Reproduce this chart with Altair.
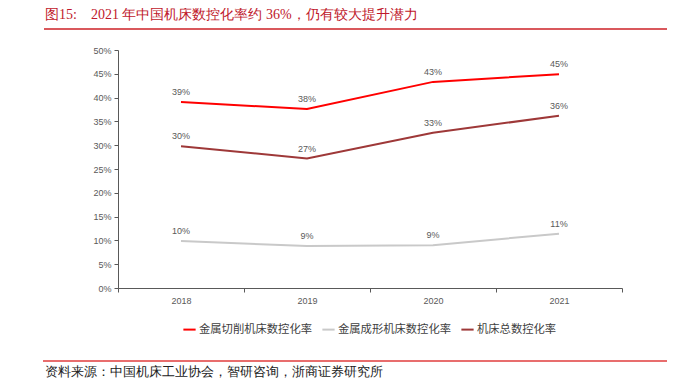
import altair as alt
import pandas as pd

years = ["2018", "2019", "2020", "2021"]
cutting = [0.391, 0.376, 0.433, 0.449]
forming = [0.099, 0.088, 0.090, 0.114]
total = [0.298, 0.272, 0.326, 0.362]
series_names = ["金属切削机床数控化率", "金属成形机床数控化率", "机床总数控化率"]
series_colors = ["#FF0000", "#C9C9C9", "#9E3838"]
title_text = "图15:\u00a0\u00a0\u00a0\u00a02021 年中国机床数控化率约 36%，仍有较大提升潜力"
source_text = "资料来源：中国机床工业协会，智研咨询，浙商证券研究所"

rows = []
for name, vals in zip(series_names, [cutting, forming, total]):
    for y, v in zip(years, vals):
        rows.append({"year": y, "value": v, "series": name, "label": f"{round(v*100):.0f}%"})
df = pd.DataFrame(rows)

W, H = 504, 238
x = alt.X("year:N", title=None, sort=years,
          scale=alt.Scale(paddingInner=0, paddingOuter=0),
          axis=alt.Axis(labelAngle=0, tickBand="extent", labelColor="#595959", labelFontSize=9,
                        labelFont="Liberation Sans", domainColor="#595959", tickColor="#595959",
                        tickSize=4, labelPadding=4))
y = alt.Y("value:Q", title=None, scale=alt.Scale(domain=[0, 0.5]),
          axis=alt.Axis(format=".0%", values=[i * 0.05 for i in range(11)], grid=False,
                        labelColor="#595959", labelFontSize=9, labelFont="Liberation Sans",
                        domainColor="#595959", tickColor="#595959", tickSize=4, labelPadding=3))
color = alt.Color("series:N", sort=series_names,
                  scale=alt.Scale(domain=series_names, range=series_colors),
                  legend=alt.Legend(title=None, orient="none", direction="horizontal",
                                    legendX=64, legendY=272, symbolType="stroke",
                                    symbolStrokeWidth=2, symbolSize=150, columnPadding=6,
                                    labelFontSize=11.3, labelColor="#404040",
                                    labelFont="Noto Sans CJK SC", labelOffset=2, padding=0))

lines = alt.Chart(df).mark_line(strokeWidth=2).encode(x=x, y=y, color=color)
labels = alt.Chart(df).mark_text(baseline="bottom", dy=-5, fontSize=9, color="#595959",
                                 font="Liberation Sans").encode(x=x, y=y, text="label:N")

title_df = pd.DataFrame({"t": [title_text]})
title = alt.Chart(title_df).mark_text(align="left", baseline="middle", fontSize=14,
                                      color="#C0182B", font="Liberation Serif").encode(
    x=alt.value(-73), y=alt.value(-35), text="t:N")
source_df = pd.DataFrame({"t": [source_text]})
source = alt.Chart(source_df).mark_text(align="left", baseline="middle", fontSize=12.6,
                                        color="#222222", font="Liberation Serif").encode(
    x=alt.value(-73), y=alt.value(322), text="t:N")
top_rule = alt.Chart(title_df).mark_rule(color="#D9585C", strokeWidth=2).encode(
    x=alt.value(-74), x2=alt.value(549), y=alt.value(-21))
bottom_rule = alt.Chart(source_df).mark_rule(color="#E03C3C", strokeWidth=1.5).encode(
    x=alt.value(-75), x2=alt.value(549), y=alt.value(311))

chart = alt.layer(lines, labels, title, top_rule, source, bottom_rule).properties(
    width=W, height=H,
    autosize=alt.AutoSizeParams(type="none"),
    padding={"left": 110, "top": 42, "right": 50, "bottom": 93},
).configure_view(stroke=None)

chart.save("out.html", embed_options={"renderer": "svg", "actions": False})
